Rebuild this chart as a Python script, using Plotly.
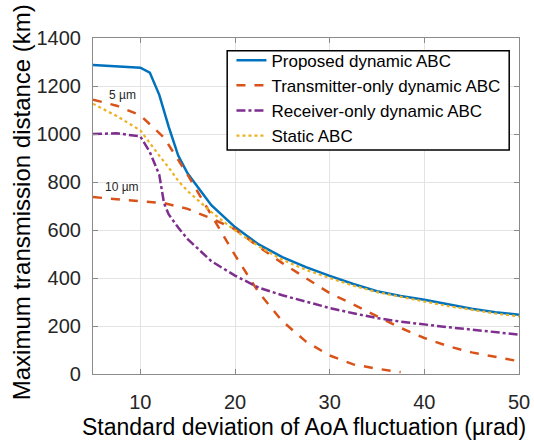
import plotly.graph_objects as go

# ---- data ----
x_prop = [5, 7.5, 10, 11, 12, 13, 14, 15, 17.5, 20, 22.5, 25, 27.5, 30, 32.5, 35, 37.5, 40, 42.5, 45, 47.5, 50]
y_prop = [1288, 1281, 1276, 1256, 1163, 1030, 910, 835, 703, 612, 540, 487, 445, 409, 375, 345, 325, 309, 290, 272, 257, 247]

x_tx5 = [5, 7.5, 10, 12.5, 15, 17.5, 20, 22.5, 25, 27.5, 30, 32.5, 35, 37.5]
y_tx5 = [1143, 1118, 1078, 985, 830, 660, 495, 340, 220, 135, 77, 40, 22, 8]

x_tx10 = [5, 7.5, 10, 12.5, 15, 17.5, 20, 22.5, 25, 27.5, 30, 32.5, 35, 37.5, 40, 42.5, 45, 47.5, 50]
y_tx10 = [737, 728, 722, 712, 688, 648, 603, 530, 462, 400, 337, 290, 242, 192, 150, 116, 90, 70, 53]

x_rx = [5, 7.5, 10, 11, 12, 12.5, 13, 14, 15, 17.5, 20, 22.5, 25, 27.5, 30, 32.5, 35, 37.5, 40, 42.5, 45, 47.5, 50]
y_rx = [1000, 1003, 990, 925, 830, 712, 665, 610, 562, 470, 410, 360, 328, 300, 275, 253, 233, 218, 205, 195, 185, 175, 164]

x_static = [5, 7.5, 10, 11, 12, 13, 14, 15, 17.5, 20, 22.5, 25, 27.5, 30, 32.5, 35, 37.5, 40, 42.5, 45, 47.5, 50]
y_static = [1126, 1075, 1015, 965, 910, 860, 805, 762, 675, 598, 532, 476, 434, 400, 368, 341, 320, 302, 283, 267, 252, 240]

x_ticks = [10, 20, 30, 40, 50]
y_ticks = [0, 200, 400, 600, 800, 1000, 1200, 1400]

names = ["Proposed dynamic ABC", "Transmitter-only dynamic ABC",
         "Receiver-only dynamic ABC", "Static ABC"]
labels = ["5 \u00b5m", "10 \u00b5m"]
label_pos = [(8.1, 1163), (8.1, 778)]
x_title = "Standard deviation of AoA fluctuation (\u00b5rad)"
y_title = "Maximum transmission distance (km)"

FONT = "Liberation Sans, Arial, sans-serif"
BLUE, ORANGE, PURPLE, YELLOW = "#0072BD", "#D95319", "#7E2F8E", "#EDB120"

fig = go.Figure()
fig.add_trace(go.Scatter(x=x_prop, y=y_prop, mode="lines", name=names[0],
                         line=dict(color=BLUE, width=2.5)))
fig.add_trace(go.Scatter(x=x_tx5, y=y_tx5, mode="lines", name=names[1],
                         line=dict(color=ORANGE, width=2.5, dash="dash")))
fig.add_trace(go.Scatter(x=x_tx10, y=y_tx10, mode="lines", name=names[1],
                         line=dict(color=ORANGE, width=2.5, dash="dash"),
                         showlegend=False))
fig.add_trace(go.Scatter(x=x_rx, y=y_rx, mode="lines", name=names[2],
                         line=dict(color=PURPLE, width=2.5, dash="dashdot")))
fig.add_trace(go.Scatter(x=x_static, y=y_static, mode="lines", name=names[3],
                         line=dict(color=YELLOW, width=2.2, dash="dot")))

for txt, (ax, ay) in zip(labels, label_pos):
    fig.add_annotation(x=ax, y=ay, text=txt, showarrow=False,
                       font=dict(family=FONT, size=12, color="#262626"))

# axis titles
fig.add_annotation(xref="paper", yref="paper", x=0.496, y=-0.158,
                   xanchor="center", yanchor="middle", text=x_title,
                   showarrow=False, font=dict(family=FONT, size=23, color="black"))
fig.add_annotation(xref="paper", yref="paper", x=-0.166, y=0.512,
                   xanchor="center", yanchor="middle", text=y_title, textangle=-90,
                   showarrow=False, font=dict(family=FONT, size=24, color="black"))

# legend frame (drawn as a box behind the legend entries)
fig.add_shape(type="rect", xref="paper", yref="paper",
              x0=0.315, x1=0.977, y0=0.667, y1=0.962, layer="above",
              line=dict(color="black", width=1.5), fillcolor="white")

axis_common = dict(showgrid=True, gridcolor="#e3e3e3", gridwidth=1,
                   showline=True, linecolor="#8a8a8a", linewidth=1.2,
                   mirror="ticks", ticks="inside", ticklen=5,
                   tickcolor="#8a8a8a", zeroline=False, automargin=False,
                   tickfont=dict(family=FONT, size=20, color="#262626"))

fig.update_layout(
    width=534, height=445,
    margin=dict(l=93, r=15, t=38, b=71),
    paper_bgcolor="white", plot_bgcolor="white",
    xaxis=dict(range=[5, 50], tickvals=x_ticks, ticklabelstandoff=10,
               **axis_common),
    yaxis=dict(range=[0, 1400], tickvals=y_ticks, ticklabelstandoff=7,
               **axis_common),
    legend=dict(x=0.325, y=0.986, xanchor="left", yanchor="top",
                bgcolor="rgba(0,0,0,0)", borderwidth=0,
                font=dict(family=FONT, size=17, color="black"),
                itemwidth=30, tracegroupgap=0),
    showlegend=True,
)

fig.write_html("out.html")
